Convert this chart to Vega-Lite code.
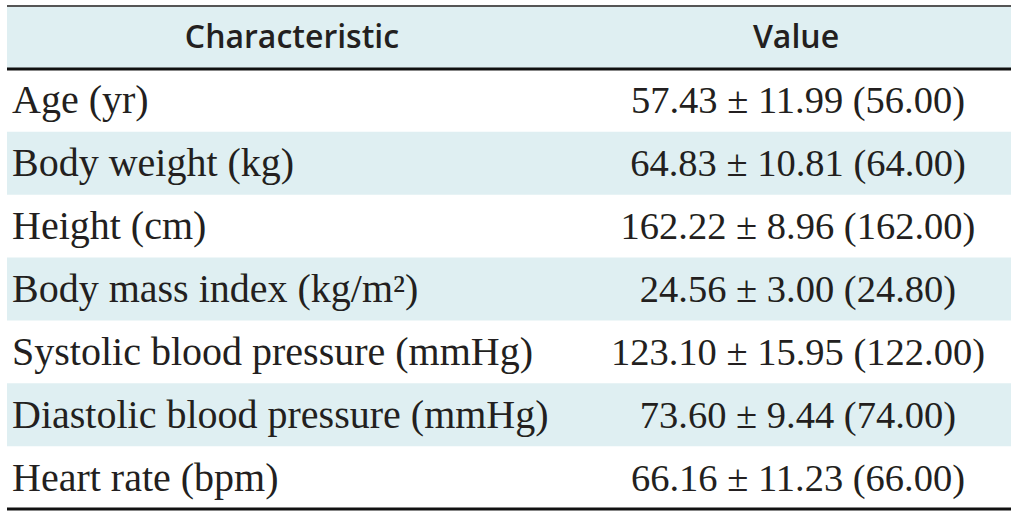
{
  "$schema": "https://vega.github.io/schema/vega-lite/v6.json",
  "width": 1019,
  "height": 514,
  "autosize": {"type": "fit", "contains": "padding"},
  "padding": {"left": 5, "right": 6, "top": 5, "bottom": 3},
  "background": "white",
  "config": {"view": {"stroke": null}},
  "datasets": {
    "rows": [
      {"row": "Age (yr)", "value": "57.43 ± 11.99 (56.00)"},
      {"row": "Body weight (kg)", "value": "64.83 ± 10.81 (64.00)"},
      {"row": "Height (cm)", "value": "162.22 ± 8.96 (162.00)"},
      {"row": "Body mass index (kg/m²)", "value": "24.56 ± 3.00 (24.80)"},
      {"row": "Systolic blood pressure (mmHg)", "value": "123.10 ± 15.95 (122.00)"},
      {"row": "Diastolic blood pressure (mmHg)", "value": "73.60 ± 9.44 (74.00)"},
      {"row": "Heart rate (bpm)", "value": "66.16 ± 11.23 (66.00)"}
    ],
    "header": [
      {"col": "Characteristic"}
    ]
  },
  "data": {"name": "rows"},
  "encoding": {
    "y": {
      "field": "row",
      "type": "nominal",
      "sort": null,
      "scale": {
        "type": "band",
        "domain": ["Characteristic", "Age (yr)", "Body weight (kg)", "Height (cm)", "Body mass index (kg/m²)", "Systolic blood pressure (mmHg)", "Diastolic blood pressure (mmHg)", "Heart rate (bpm)"],
        "paddingInner": 0,
        "paddingOuter": 0
      },
      "axis": null
    }
  },
  "layer": [
    {
      "data": {"name": "header"},
      "mark": {"type": "rect", "fill": "#dfeff2"},
      "encoding": {"y": {"datum": "Characteristic", "type": "nominal"}}
    },
    {
      "transform": [
        {"window": [{"op": "row_number", "as": "rn"}]},
        {"filter": "datum.rn % 2 == 0"}
      ],
      "mark": {"type": "rect", "fill": "#dfeff2"}
    },
    {
      "mark": {"type": "text", "align": "left", "baseline": "middle", "font": "Liberation Serif", "fontSize": 40, "fill": "#231f20", "dy": 1},
      "encoding": {"x": {"value": 5}, "text": {"field": "row"}}
    },
    {
      "mark": {"type": "text", "align": "center", "baseline": "middle", "font": "Liberation Serif", "fontSize": 38.5, "fill": "#231f20", "dy": 1},
      "encoding": {"x": {"value": 791}, "text": {"field": "value"}}
    },
    {
      "data": {"name": "header"},
      "mark": {"type": "text", "align": "center", "baseline": "middle", "font": "Open Sans", "fontWeight": 600, "fontSize": 32, "fill": "#231f20", "dy": 1},
      "encoding": {"y": {"datum": "Characteristic", "type": "nominal"}, "x": {"value": 285}, "text": {"value": "Characteristic"}}
    },
    {
      "data": {"name": "header"},
      "mark": {"type": "text", "align": "center", "baseline": "middle", "font": "Open Sans", "fontWeight": 600, "fontSize": 32, "fill": "#231f20", "dy": 1},
      "encoding": {"y": {"datum": "Characteristic", "type": "nominal"}, "x": {"value": 789}, "text": {"value": "Value"}}
    },
    {
      "data": {"name": "header"},
      "mark": {"type": "rule", "stroke": "#555555", "strokeWidth": 2},
      "encoding": {"y": {"datum": "Characteristic", "type": "nominal", "bandPosition": 0}}
    },
    {
      "data": {"name": "header"},
      "mark": {"type": "rule", "stroke": "#111111", "strokeWidth": 3},
      "encoding": {"y": {"datum": "Characteristic", "type": "nominal", "bandPosition": 1}}
    },
    {
      "data": {"name": "header"},
      "mark": {"type": "rule", "stroke": "#111111", "strokeWidth": 3},
      "encoding": {"y": {"datum": "Heart rate (bpm)", "type": "nominal", "bandPosition": 1}}
    }
  ]
}
